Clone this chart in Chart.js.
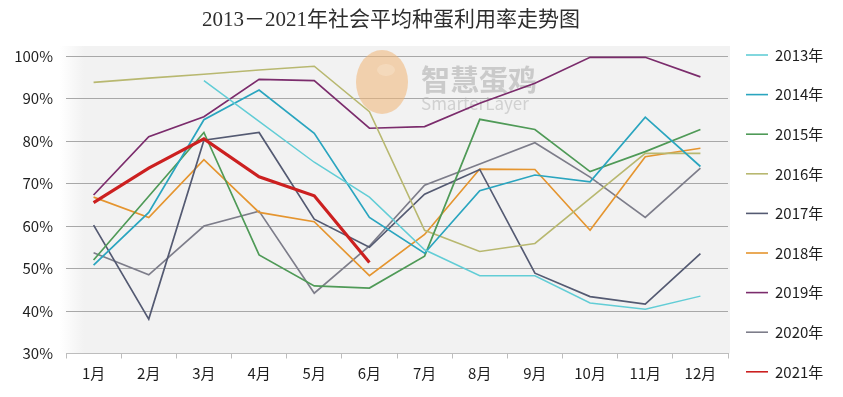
<!DOCTYPE html>
<html>
<head>
<meta charset="utf-8">
<script src="https://cdn.jsdelivr.net/npm/chart.js@4/dist/chart.umd.min.js"></script>
<style>
  html, body { margin: 0; padding: 0; background: #ffffff; }
  #wrap { position: relative; width: 843px; height: 397px; }
</style>
</head>
<body>
<div id="wrap"><canvas id="c" width="843" height="397"></canvas></div>
<script>
const titleText = '2013－2021年社会平均种蛋利用率走势图';
const months = ['1月','2月','3月','4月','5月','6月','7月','8月','9月','10月','11月','12月'];
const yTicks = [30, 40, 50, 60, 70, 80, 90, 100];
const yearLabels = ['2013年','2014年','2015年','2016年','2017年','2018年','2019年','2020年','2021年'];

const s2013 = [null, null, 94.2, 84.6, 75.0, 66.8, 54.4, 48.3, 48.3, 41.9, 40.4, 43.5];
const s2014 = [50.8, 63.2, 85.0, 92.0, 81.8, 62.0, 53.6, 68.3, 72.0, 70.4, 85.6, 74.0];
const s2015 = [52.0, 67.0, 82.0, 53.2, 45.9, 45.4, 52.9, 85.1, 82.7, 72.8, 77.5, 82.7];
const s2016 = [93.8, 94.8, 95.7, 96.7, 97.6, 86.9, 59.0, 54.0, 55.9, 66.5, 77.1, 77.1];
const s2017 = [60.2, 38.1, 80.2, 82.0, 61.6, 55.0, 67.5, 73.3, 48.9, 43.4, 41.6, 53.5];
const s2018 = [66.8, 62.0, 75.6, 63.2, 61.0, 48.3, 58.0, 73.4, 73.3, 59.0, 76.3, 78.3];
const s2019 = [67.3, 81.0, 85.7, 94.5, 94.2, 83.0, 83.4, 88.9, 93.6, 99.7, 99.7, 95.1];
const s2020 = [53.7, 48.5, 60.0, 63.5, 44.2, 55.3, 69.6, 74.6, 79.6, 71.5, 62.0, 73.6];
const s2021 = [65.5, 73.6, 80.5, 71.6, 67.1, 51.4, null, null, null, null, null, null];

const seriesValues = [s2013, s2014, s2015, s2016, s2017, s2018, s2019, s2020, s2021];
const seriesColors = ['#62cdd6', '#2aa5bf', '#4f9a57', '#b8b870', '#545a72', '#e5952f', '#7b2c6c', '#7d7d8a', '#cc2020'];
const seriesWidths = [1.5, 1.7, 1.7, 1.6, 1.7, 1.7, 1.7, 1.7, 3.2];

const FONT = '"Noto Sans CJK SC", "Noto Sans", sans-serif';
const TITLE_FONT = '"Liberation Serif", "Noto Sans CJK SC", serif';

const datasets = seriesValues.map((vals, i) => ({
  label: yearLabels[i],
  data: vals,
  borderColor: seriesColors[i],
  backgroundColor: seriesColors[i],
  borderWidth: seriesWidths[i],
  pointRadius: 0,
  pointHoverRadius: 0,
  tension: 0,
  fill: false,
  spanGaps: false,
  order: i === 8 ? 0 : 1
}));

const decor = {
  id: 'decor',
  beforeDraw(chart) {
    const ctx = chart.ctx;
    const a = chart.chartArea;
    ctx.save();
    ctx.fillStyle = '#ffffff';
    ctx.fillRect(0, 0, chart.width, chart.height);
    const g = ctx.createLinearGradient(a.left - 6, 0, a.left + 18, 0);
    g.addColorStop(0, 'rgba(242,242,242,0)');
    g.addColorStop(1, 'rgba(242,242,242,1)');
    ctx.fillStyle = '#f2f2f2';
    ctx.fillRect(a.left + 18, a.top - 10, a.right - a.left - 16, a.bottom - a.top + 10);
    ctx.fillStyle = g;
    ctx.fillRect(a.left - 6, a.top - 10, 24, a.bottom - a.top + 10);
    ctx.restore();
  },
  beforeDatasetsDraw(chart) {
    const ctx = chart.ctx;
    ctx.save();
    ctx.globalAlpha = 0.55;
    ctx.fillStyle = '#f0b474';
    ctx.beginPath();
    ctx.ellipse(382, 82, 26, 32, 0, 0, Math.PI * 2);
    ctx.fill();
    ctx.globalAlpha = 0.6;
    ctx.fillStyle = '#f7dfc4';
    ctx.beginPath();
    ctx.ellipse(386, 70, 9, 6, 0, 0, Math.PI * 2);
    ctx.fill();
    ctx.globalAlpha = 1;
    ctx.fillStyle = 'rgba(170,170,170,0.55)';
    ctx.font = 'bold 29px ' + FONT;
    ctx.textBaseline = 'middle';
    ctx.textAlign = 'left';
    ctx.fillText('智慧蛋鸡', 421, 80);
    ctx.fillStyle = 'rgba(175,175,175,0.5)';
    ctx.font = '17px ' + FONT;
    ctx.fillText('SmarterLayer', 421, 104);
    ctx.restore();
  },
  afterDraw(chart) {
    const ctx = chart.ctx;
    ctx.save();
    ctx.fillStyle = '#2e2e2e';
    ctx.font = '21px ' + TITLE_FONT;
    ctx.textAlign = 'center';
    ctx.textBaseline = 'middle';
    ctx.fillText(titleText, 391, 20);
    ctx.font = '15px ' + FONT;
    ctx.textAlign = 'left';
    chart.data.datasets.forEach((ds, i) => {
      const y = 55 + i * 39.6;
      ctx.strokeStyle = ds.borderColor;
      ctx.lineWidth = 1.6;
      ctx.beginPath();
      ctx.moveTo(746, y);
      ctx.lineTo(768, y);
      ctx.stroke();
      ctx.fillStyle = '#1e1e1e';
      ctx.fillText(ds.label, 775, y);
    });
    ctx.restore();
  }
};

new Chart(document.getElementById('c'), {
  type: 'line',
  data: { labels: months, datasets },
  options: {
    responsive: false,
    animation: false,
    events: [],
    layout: { padding: { top: 56, right: 115, left: 0, bottom: 0 } },
    plugins: {
      legend: { display: false },
      title: { display: false },
      tooltip: { enabled: false }
    },
    scales: {
      x: {
        type: 'category',
        offset: true,
        afterFit(s) { s.height = 43.5; },
        grid: {
          offset: true,
          drawOnChartArea: false,
          drawTicks: true,
          tickLength: 5,
          color: '#bdbdbd'
        },
        border: { display: true, color: '#bdbdbd', width: 1 },
        ticks: {
          color: '#1e1e1e',
          font: { size: 15, family: FONT },
          padding: 6,
          maxRotation: 0,
          autoSkip: false
        }
      },
      y: {
        min: 30,
        max: 100,
        afterFit(s) { s.width = 66; },
        afterBuildTicks(s) { s.ticks = yTicks.map(v => ({ value: v })); },
        grid: { color: '#a8a8a8', lineWidth: 1, drawTicks: false },
        border: { display: false },
        ticks: {
          color: '#1e1e1e',
          font: { size: 15, family: FONT },
          padding: 13,
          callback: v => v + '%'
        }
      }
    }
  },
  plugins: [decor]
});
</script>
</body>
</html>
